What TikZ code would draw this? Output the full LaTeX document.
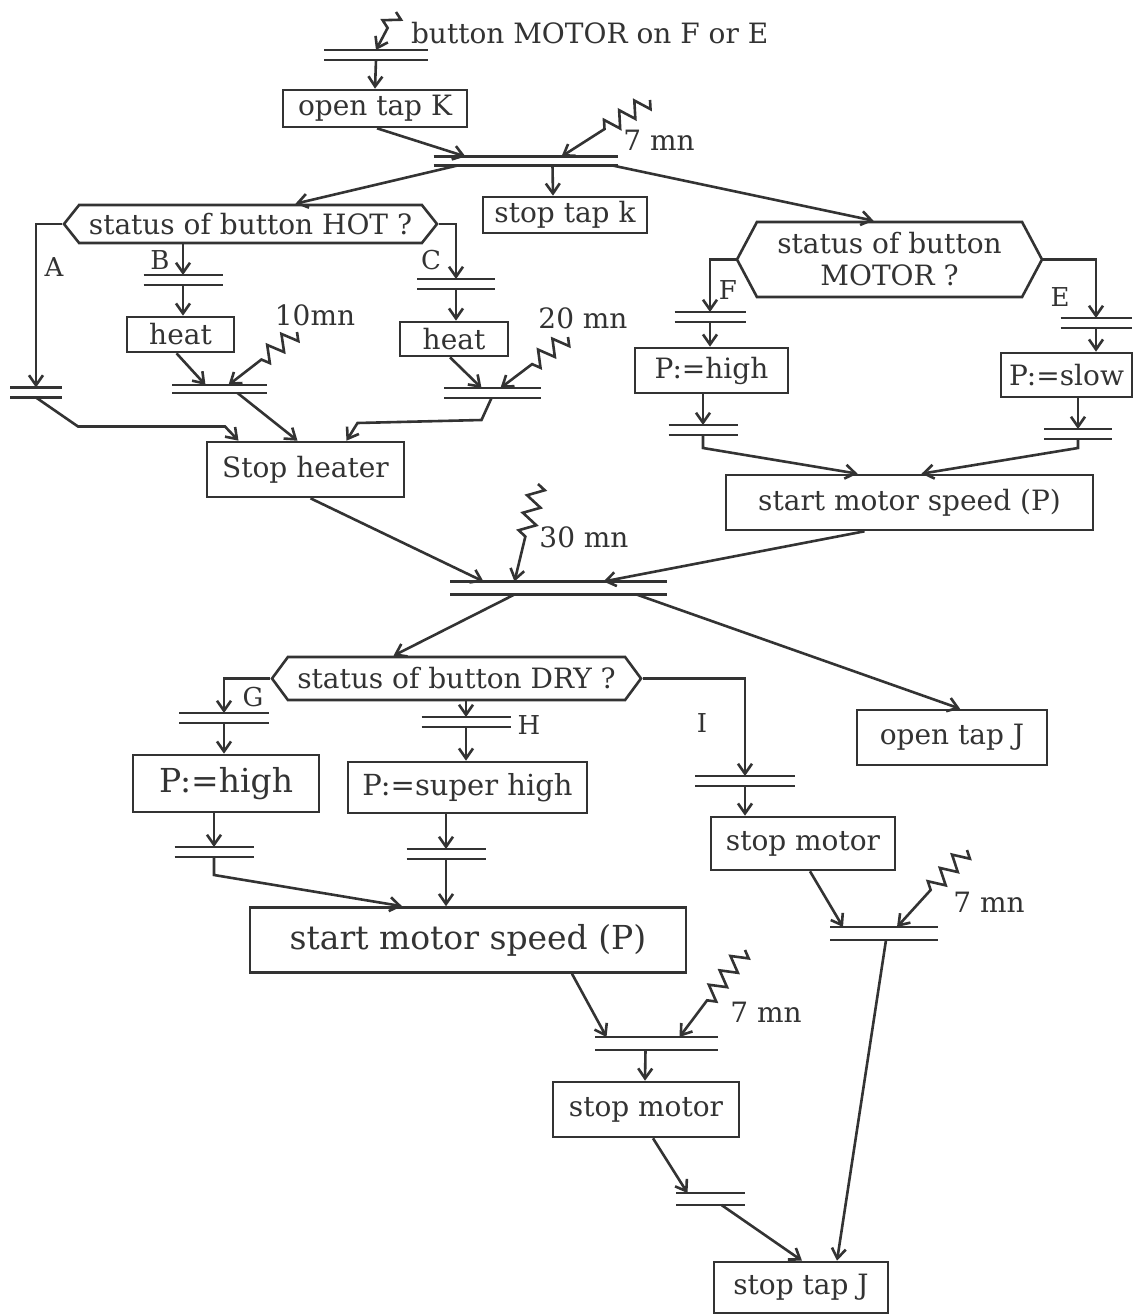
\documentclass[tikz,border=0pt]{standalone}
\usepackage{fontspec}
\setmainfont{DejaVu Serif}
\usetikzlibrary{calc,arrows.meta,shapes.symbols,decorations.pathmorphing}
\definecolor{ink}{HTML}{333333}

\begin{document}
\begin{tikzpicture}[x=0.5pt, y=-0.5pt,
    box/.style={draw=ink, line width=1.3pt, fill=white, align=center, inner sep=0pt,
                text=ink, font=\fontsize{14}{16}\selectfont},
    bigbox/.style={box, font=\fontsize{16.5}{18}\selectfont},
    quest/.style={box, signal, signal to=west and east, signal pointer angle=#1},
    tr/.style={minimum width=#1, minimum height=5pt, inner sep=0pt, outer sep=0pt,
               append after command={
                 (\tikzlastnode.north west) edge[draw=ink, line width=1.3pt] (\tikzlastnode.north east)
                 (\tikzlastnode.south west) edge[draw=ink, line width=1.3pt] (\tikzlastnode.south east)}},
    arrow/.style={-{Straight Barb[length=5pt,width=7pt]}, draw=ink, line width=1.3pt},
    trig/.style={arrow, decorate, decoration={zigzag, segment length=9pt, amplitude=4pt, post length=#1}},
    trig/.default=20pt,
    lbl/.style={text=ink, font=\fontsize{14}{16}\selectfont},
    letter/.style={text=ink, font=\fontsize{13}{15}\selectfont}
  ]
    \fill[white] (0,0) rectangle (1142,1316);
    \useasboundingbox (0,0) rectangle (1142,1316);

    \node[tr=52pt] (t0) at (376,55) {};
    \node[box, minimum width=92pt, minimum height=18.5pt] (openK) at (375,108.5) {open tap K};
    \node[tr=92pt, minimum height=4.5pt] (t1) at (525.5,161) {};
    \node[box, minimum width=82pt, minimum height=18pt] (stopk) at (565,215) {stop tap k};

    \node[quest=103, minimum width=186.5pt, minimum height=19pt] (hot) at (250.5,224) {status of button HOT ?};
    \node[tr=26pt] (bA) at (36,392.5) {};
    \node[tr=39.5pt] (bB) at (183,280) {};
    \node[box, minimum width=53.5pt, minimum height=17.5pt] (heat1) at (180.5,334.5) {heat};
    \node[tr=47.5pt, minimum height=4pt] (bH1) at (219.5,389) {};
    \node[tr=39pt] (bC) at (456,284) {};
    \node[box, minimum width=54pt, minimum height=17pt] (heat2) at (454,339) {heat};
    \node[tr=48.5pt] (bH2) at (492.5,393) {};
    \node[box, minimum width=98.5pt, minimum height=27.5pt] (stopheat) at (305.5,469.5) {Stop heater};

    \node[quest=124, minimum width=152.5pt, minimum height=37.5pt] (motor) at (889.5,259.5) {status of button\\MOTOR ?};
    \node[tr=35.5pt] (bF) at (710,317) {};
    \node[box, minimum width=76.5pt, minimum height=22.5pt] (phigh1) at (711.5,370.5) {P:=high};
    \node[tr=34.5pt] (bF2) at (703,430) {};
    \node[tr=35.5pt] (bE) at (1096,323) {};
    \node[box, minimum width=65.5pt, minimum height=22pt] (pslow) at (1066.5,375) {P:=slow};
    \node[tr=34pt] (bE2) at (1078,434) {};
    \node[box, minimum width=183.5pt, minimum height=27.5pt] (start1) at (909.5,502.5) {start motor speed (P)};

    \node[tr=108.5pt, minimum height=6.5pt] (t3) at (558.5,588) {};
    \node[quest=107, minimum width=184.5pt, minimum height=21.5pt] (dry) at (456.5,678.5) {status of button DRY ?};
    \node[box, minimum width=95pt, minimum height=27.5pt] (openJ) at (952,737.5) {open tap J};

    \node[tr=45pt] (bG) at (224,718) {};
    \node[bigbox, minimum width=93pt, minimum height=28.5pt] (phigh2) at (226,783.5) {P:=high};
    \node[tr=39.5pt] (bG2) at (214,852) {};
    \node[tr=44.5pt] (bH) at (466,722) {};
    \node[box, font=\fontsize{14.5}{16}\selectfont, minimum width=119.5pt, minimum height=25.5pt] (psuper) at (467.5,787.5) {P:=super high};
    \node[tr=39.5pt] (bH3) at (446,854) {};
    \node[bigbox, minimum width=218pt, minimum height=32.5pt] (start2) at (468,940) {start motor speed (P)};
    \node[tr=50pt] (bI) at (745,781) {};
    \node[box, minimum width=92pt, minimum height=26.5pt] (stopm1) at (803,843.5) {stop motor};
    \node[tr=54pt, minimum height=6.5pt] (t4) at (884,933.5) {};
    \node[tr=61.5pt, minimum height=6.5pt] (t5) at (656.5,1043.5) {};
    \node[box, minimum width=93pt, minimum height=27.5pt] (stopm2) at (646,1109.5) {stop motor};
    \node[tr=34.5pt, minimum height=6pt] (t6) at (710.5,1199) {};
    \node[box, minimum width=87pt, minimum height=25.5pt] (stopJ) at (801,1287.5) {stop tap J};

    \coordinate (sq0) at (396,12);
    \coordinate (sq1) at (650,100);
    \coordinate (sq2) at (297,332);
    \coordinate (sq3) at (568,337);
    \coordinate (sq4) at (538,484);
    \coordinate (sq5) at (967,850);
    \coordinate (sq6) at (745,950);

    \node[lbl, anchor=west] (evt) at (404,33) {button MOTOR on F or E};
    \node[lbl] (d1) at (659,140) {7 mn};
    \node[lbl] (d2) at (315,315) {10mn};
    \node[lbl] (d3) at (583,318) {20 mn};
    \node[lbl] (d4) at (584,537) {30 mn};
    \node[lbl] (d5) at (989,902) {7 mn};
    \node[lbl] (d6) at (766,1012) {7 mn};
    \node[letter] (la) at (54,267) {A};
    \node[letter] (lb) at (160,260) {B};
    \node[letter] (lc) at (431,260) {C};
    \node[letter] (lf) at (728,290) {F};
    \node[letter] (le) at (1060,297) {E};
    \node[letter] (lg) at (253,697) {G};
    \node[letter] (lh) at (529,725) {H};
    \node[letter] (li) at (702,723) {I};

    \draw[trig=10pt] (sq0) -- (t0.north);
    \draw[arrow] (t0.south) -- (openK.north);
    \draw[arrow] ($(openK.south)+(2,0)$) -- ($(t1.north west)+(32,0)$);
    \draw[trig=22pt] (sq1) -- ($(t1.north)+(36,0)$);
    \draw[arrow] ($(t1.south)+(27,0)$) -- ($(stopk.north)+(-12,0)$);
    \draw[arrow] ($(t1.south west)+(24,0)$) -- ($(hot.north)+(45,0)$);
    \draw[arrow] ($(t1.south east)+(-5,0)$) -- ($(motor.north)+(-16,0)$);

    \draw[arrow] (hot.west) -| (bA.north);
    \draw[arrow] (hot.south -| bB.north) -- (bB.north);
    \draw[arrow] (bB.south) -- (bB.south |- heat1.north);
    \draw[arrow] ($(heat1.south)+(-4,0)$) -- ($(bH1.north)+(-14,0)$);
    \draw[trig=18pt] (sq2) -- ($(bH1.north)+(9,0)$);
    \draw[arrow] (hot.east) -| (bC.north);
    \draw[arrow] (bC.south) -- (bC.south |- heat2.north);
    \draw[arrow] ($(heat2.south)+(-4,0)$) -- ($(bH2.north)+(-11,0)$);
    \draw[trig=18pt] (sq3) -- ($(bH2.north)+(8,0)$);
    \draw[arrow] (bA.south) -- ++(42,29) -- ++(147,0) -- ($(stopheat.north)+(-67,0)$);
    \draw[arrow] ($(bH1.south)+(18,0)$) -- ($(stopheat.north)+(-8,0)$);
    \draw[arrow] ($(bH2.south)+(-1,0)$) -- ++(-10,22) -- ++(-124,3) -- ($(stopheat.north)+(41,0)$);

    \draw[arrow] (motor.west) -| (bF.north);
    \draw[arrow] (bF.south) -- (bF.south |- phigh1.north);
    \draw[arrow] (bF2.north |- phigh1.south) -- (bF2.north);
    \draw[arrow] (bF2.south) -- ++(0,13) -- ($(start1.north)+(-52,0)$);
    \draw[arrow] (motor.east) -| (bE.north);
    \draw[arrow] (bE.south) -- (bE.south |- pslow.north);
    \draw[arrow] (bE2.north |- pslow.south) -- (bE2.north);
    \draw[arrow] (bE2.south) -- ++(0,9) -- ($(start1.north)+(12,0)$);

    \draw[arrow] ($(stopheat.south)+(5,0)$) -- ($(t3.north)+(-75,0)$);
    \draw[trig=22pt] (sq4) -- ($(t3.north)+(-44,0)$);
    \draw[arrow] ($(start1.south)+(-45,0)$) -- ($(t3.north)+(45,0)$);
    \draw[arrow] ($(t3.south)+(-44,0)$) -- ($(dry.north)+(-63,0)$);
    \draw[arrow] ($(t3.south)+(78,0)$) -- ($(openJ.north)+(8,0)$);

    \draw[arrow] (dry.west) -| (bG.north);
    \draw[arrow] (bG.south) -- (bG.south |- phigh2.north);
    \draw[arrow] (bG2.north |- phigh2.south) -- (bG2.north);
    \draw[arrow] (bG2.south) -- ++(0,18) -- ($(start2.north)+(-66,0)$);
    \draw[arrow] (dry.south -| bH.north) -- (bH.north);
    \draw[arrow] (bH.south) -- (bH.south |- psuper.north);
    \draw[arrow] (bH3.north |- psuper.south) -- (bH3.north);
    \draw[arrow] (bH3.south) -- (bH3.south |- start2.north);
    \draw[arrow] (dry.east) -| (bI.north);
    \draw[arrow] (bI.south) -- (bI.south |- stopm1.north);
    \draw[arrow] ($(stopm1.south)+(7,0)$) -- ($(t4.north)+(-41,0)$);
    \draw[trig=22pt] (sq5) -- ($(t4.north)+(13,0)$);
    \draw[arrow] ($(t4.south)+(2,0)$) -- ($(stopJ.north)+(36,0)$);
    \draw[arrow] ($(start2.south)+(104,0)$) -- ($(t5.north)+(-50,0)$);
    \draw[trig=22pt] (sq6) -- ($(t5.north)+(23,0)$);
    \draw[arrow] ($(t5.south)+(-11,0)$) -- ($(stopm2.north)+(-1,0)$);
    \draw[arrow] ($(stopm2.south)+(7,0)$) -- ($(t6.north)+(-23,0)$);
    \draw[arrow] ($(t6.south)+(11,0)$) -- ($(stopJ.north)+(1,0)$);
\end{tikzpicture}
\end{document}
